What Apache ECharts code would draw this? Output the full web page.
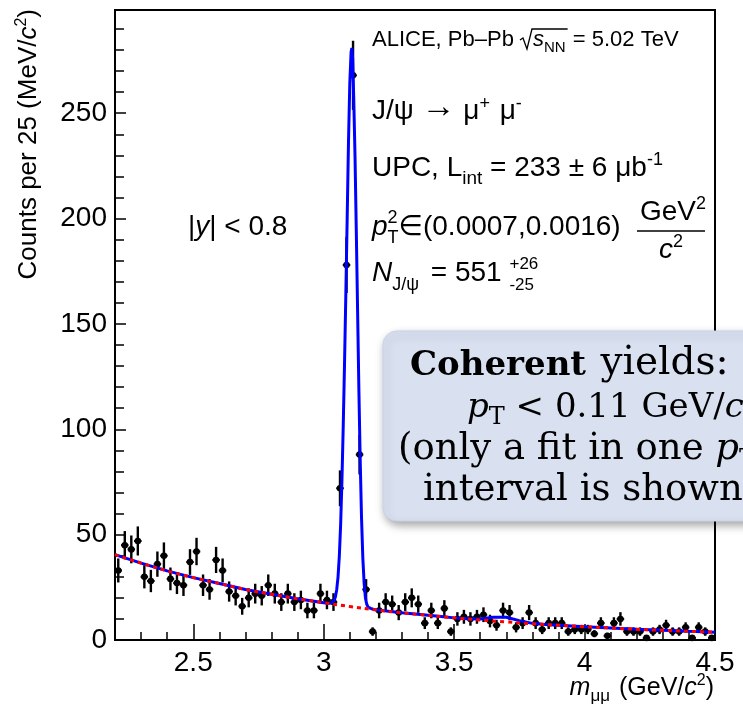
<!DOCTYPE html>
<html>
<head>
<meta charset="utf-8">
<script src="https://cdn.jsdelivr.net/npm/echarts@6/dist/echarts.min.js"></script>
<style>html,body{margin:0;padding:0;background:#fff}#c{width:743px;height:707px}</style>
</head>
<body>
<div id="c"></div>
<script>
// ---------- data ----------
const binCenters = [
 2.2125,2.2375,2.2625,2.2875,2.3125,2.3375,2.3625,2.3875,2.4125,2.4375,
 2.4625,2.4875,2.5125,2.5375,2.5625,2.5875,2.6125,2.6375,2.6625,2.6875,
 2.7125,2.7375,2.7625,2.7875,2.8125,2.8375,2.8625,2.8875,2.9125,2.9375,
 2.9625,2.9875,3.0125,3.0375,3.0625,3.0875,3.1125,3.1375,3.1625,3.1875,
 3.2125,3.2375,3.2625,3.2875,3.3125,3.3375,3.3625,3.3875,3.4125,3.4375,
 3.4625,3.4875,3.5125,3.5375,3.5625,3.5875,3.6125,3.6375,3.6625,3.6875,
 3.7125,3.7375,3.7625,3.7875,3.8125,3.8375,3.8625,3.8875,3.9125,3.9375,
 3.9625,3.9875,4.0125,4.0375,4.0625,4.0875,4.1125,4.1375,4.1625,4.1875,
 4.2125,4.2375,4.2625,4.2875,4.3125,4.3375,4.3625,4.3875,4.4125,4.4375,
 4.4625,4.4875];
const counts = [
 33,45,43,47,30,28,36,40,29,27,
 26,37,42,26,24,38,33,23,21,16,
 20,22,21,26,22,18,22,18,19,14,
 14,22,19,18,72,178,268,88,24,4,
 14,18,17,13,18,20,17,8,14,8,
 15,4,10,11,10,11,12,9,7,14,
 13,6,8,13,8,5,8,8,8,4,
 5,5,5,3,8,2,8,10,4,4,
 4,1,4,5,7,4,4,6,1,6,
 4,1];
const countErrors = [
 5.7,6.7,6.6,6.9,5.5,5.3,6.0,6.3,5.4,5.2,
 5.1,6.1,6.5,5.1,4.9,6.2,5.7,4.8,4.6,4.0,
 4.5,4.7,4.6,5.1,4.7,4.2,4.7,4.2,4.4,3.7,
 3.7,4.7,4.4,4.2,8.5,13.3,16.4,9.4,4.9,2.0,
 3.7,4.2,4.1,3.6,4.2,4.5,4.1,2.8,3.7,2.8,
 3.9,2.0,3.2,3.3,3.2,3.3,3.5,3.0,2.6,3.7,
 3.6,2.4,2.8,3.6,2.8,2.2,2.8,2.8,2.8,2.0,
 2.2,2.2,2.2,1.7,2.8,1.4,2.8,3.2,2.0,2.0,
 2.0,1.0,2.0,2.2,2.6,2.0,2.0,2.4,1.0,2.4,
 2.0,1.0];
const fitTotalMass = [
 2.2,2.3,2.4,2.5,2.6,2.7,2.8,2.9,3.0,3.02,3.03,3.035,3.04,3.045,3.05,3.055,3.06,3.065,3.07,3.075,
 3.08,3.085,3.09,3.095,3.1,3.105,3.108,3.111,3.115,3.12,3.125,3.13,3.135,3.14,3.145,3.15,3.155,3.16,
 3.165,3.17,3.18,3.19,3.2,3.3,3.4,3.45,3.5,3.55,3.6,3.65,3.7,3.75,3.8,3.85,3.9,4.0,4.1,4.2,4.3,4.4,4.5];
const fitTotalCounts = [
 40.5,36.5,32.8,29.6,26.8,24.0,21.7,19.6,17.7,17.4,17.6,18.0,18.8,20.5,24,30,40,55,76,102,
 132,165,200,236,264,279,281,276,258,230,194,156,118,85,58,39,27,20,
 17,15.6,15.0,14.6,14.3,12.9,11.7,11.1,10.5,10.1,10.0,10.8,10.8,9.2,7.9,7.35,7.0,6.3,5.7,5.1,4.6,4.1,3.7];
const bkgMass = [2.2,2.3,2.4,2.5,2.6,2.7,2.8,2.9,3.0,3.1,3.2,3.3,3.4,3.5,3.6,3.7,3.8,3.9,4.0,4.1,4.2,4.3,4.4,4.5];
const bkgCounts = [40.5,36.5,32.8,29.6,26.8,24.0,21.7,19.6,17.7,15.9,14.3,12.9,11.7,10.5,9.5,8.6,7.7,7.0,6.3,5.7,5.1,4.6,4.1,3.7];
const xMajorTicks = [2.5,3,3.5,4,4.5];
const xMinorTicks = [2.3,2.4,2.6,2.7,2.8,2.9,3.1,3.2,3.3,3.4,3.6,3.7,3.8,3.9,4.1,4.2,4.3,4.4];
const yMajorTicks = [0,50,100,150,200,250];
const yMinorTicks = [10,20,30,40,60,70,80,90,110,120,130,140,160,170,180,190,210,220,230,240,260,270,280,290];

// ---------- text layout helpers ----------
const SANS = 'Liberation Sans, Arial, DejaVu Sans, sans-serif';
const SERIF = 'DejaVu Serif, serif';
const mctx = document.createElement('canvas').getContext('2d');
function measure(p){ mctx.font = (p.it?'italic ':'')+(p.b?'bold ':'')+p.s+'px '+p.f; return mctx.measureText(p.t).width; }
function run(x, y, pieces, def){
  let cx = 0, pend = 0; const children = []; const pos = [];
  pieces.forEach(pc => {
    const p = Object.assign({s:def.s, f:def.f||SANS, it:false, b:false, dy:0, dx:0}, pc);
    cx += p.dx; pos.push(cx);
    children.push({type:'text', z:110, x:cx, y:p.dy - 0.35*p.s, style:{text:p.t, fill:'#000', fontSize:p.s, fontFamily:p.f,
      fontStyle:p.it?'italic':'normal', fontWeight:p.b?'bold':'normal', align:'left', verticalAlign:'middle'}});
    const wd = measure(p);
    if (p.stay) { pend = wd; } else { cx += Math.max(wd, pend); pend = 0; }
  });
  return {el:{type:'group', x:x, y:y, z:110, children:children}, width:cx, pos:pos};
}

const graphics = [];
// info box
graphics.push({type:'rect', z:100, shape:{x:383, y:331, width:430, height:190, r:14},
  style:{fill:'#d9e1f1', stroke:'#c9d3e7', lineWidth:1, shadowBlur:8, shadowOffsetX:2, shadowOffsetY:4, shadowColor:'rgba(0,0,0,0.35)'}});
graphics.push(run(410, 378, [{t:'Coherent', b:true, s:34},{t:' yields:', s:39, dx:2}], {s:37, f:SERIF}).el);
graphics.push(run(467, 420, [{t:'p', it:true},{t:'T', s:24, dy:6},{t:' < 0.11 GeV/'},{t:'c', it:true}], {s:34, f:SERIF}).el);
graphics.push(run(398, 462, [{t:'(only a fit in one '},{t:'p', it:true},{t:'T', s:25, dy:6},{t:' '}], {s:37, f:SERIF}).el);
graphics.push(run(423, 503, [{t:'interval is shown)'}], {s:37, f:SERIF}).el);

// ALICE line
const alice = run(372, 48, [{t:'ALICE, Pb\u2013Pb '},{t:'s', it:true, dx:13},{t:'NN', s:15, dy:5},{t:' = 5.02 TeV', dx:1}], {s:22});
graphics.push(alice.el);
{
  const x0 = 372 + alice.pos[1] - 13, xe = 372 + alice.pos[3] + 1, b = 48;
  graphics.push({type:'polyline', z:110, shape:{points:[[x0, b-8],[x0+3, b-10],[x0+7, b+1],[x0+12, b-19],[xe, b-19]]},
    style:{stroke:'#000', lineWidth:1.3, fill:null}});
}
graphics.push(run(372, 121, [{t:'J/\u03c8 '},{t:'\u2192', s:34, dy:-1},{t:' \u03bc'},{t:'+', s:18, dy:-11},{t:' \u03bc', dx:2},{t:'-', s:18, dy:-11}], {s:28}).el);
graphics.push(run(372, 178, [{t:'UPC, L'},{t:'int', s:19, dy:7},{t:' = 233 \u00b1 6 \u03bcb'},{t:'-1', s:18, dy:-12}], {s:28}).el);
graphics.push(run(372, 237, [{t:'p', it:true},{t:'2', s:18, dy:-13, stay:true},{t:'T', s:18, dy:7},{t:'\u2208(0.0007,0.0016)', dx:0}], {s:28}).el);
// fraction GeV^2 / c^2
graphics.push(run(640, 222, [{t:'GeV'},{t:'2', s:18, dy:-12}], {s:28}).el);
graphics.push({type:'line', z:110, shape:{x1:637, y1:231, x2:705, y2:231}, style:{stroke:'#000', lineWidth:1.5}});
graphics.push(run(659, 260, [{t:'c', it:true},{t:'2', s:18, dy:-12}], {s:28}).el);
graphics.push(run(372, 283, [{t:'N', it:true},{t:'J/\u03c8', s:18, dy:8},{t:' = 551 ', dx:4},{t:'+26', s:17, dy:-13, stay:true},{t:'-25', s:17, dy:8}], {s:28}).el);
graphics.push(run(188, 237, [{t:'|'},{t:'y', it:true},{t:'| < 0.8'}], {s:28}).el);

// x axis title (right aligned)
{
  const pcs = [{t:'m', it:true},{t:'\u03bc\u03bc', s:17, dy:5},{t:' (GeV/', dx:2},{t:'c', it:true},{t:'2', s:16, dy:-11},{t:')'}];
  const r0 = run(0, 0, pcs, {s:25});
  graphics.push(run(714 - r0.width, 697, pcs, {s:25}).el);
}
// y axis title (rotated)
{
  const pcs = [{t:'Counts per 25 (MeV/'},{t:'c', it:true},{t:'2', s:16, dy:-11},{t:')'}];
  const r = run(0, 0, pcs, {s:26});
  r.el.x = 38; r.el.y = 9 + r.width; r.el.rotation = Math.PI/2;
  graphics.push(r.el);
}

// ---------- chart ----------
const chart = echarts.init(document.getElementById('c'), null, {renderer:'canvas'});
const pointData = binCenters.map((m,i)=>[m, counts[i], countErrors[i]]);
const halfBin = 0.0125;
const axisFont = {fontSize:28, color:'#000', fontFamily:SANS};
chart.setOption({
  animation:false,
  backgroundColor:'#fff',
  grid:{left:115, right:28, top:10, bottom:67, show:true, borderColor:'#000', borderWidth:2, backgroundColor:'transparent'},
  xAxis:[
    {type:'value', min:2.2, max:4.5, position:'bottom',
     axisLine:{show:true, onZero:false, lineStyle:{color:'#000', width:2}},
     axisTick:{show:true, inside:true, length:16, customValues:xMajorTicks, lineStyle:{color:'#000', width:1.5}},
     axisLabel:Object.assign({customValues:xMajorTicks, margin:9, formatter:v=>String(v)}, axisFont),
     splitLine:{show:false}},
    {type:'value', min:2.2, max:4.5, position:'bottom',
     axisLine:{show:false, onZero:false},
     axisTick:{show:true, inside:true, length:8, customValues:xMinorTicks, lineStyle:{color:'#000', width:1.5}},
     axisLabel:{show:false}, splitLine:{show:false}}
  ],
  yAxis:[
    {type:'value', min:0, max:299, position:'left',
     axisLine:{show:true, onZero:false, lineStyle:{color:'#000', width:2}},
     axisTick:{show:true, inside:true, length:11, customValues:yMajorTicks, lineStyle:{color:'#000', width:1.5}},
     axisLabel:Object.assign({customValues:yMajorTicks, margin:8}, axisFont),
     splitLine:{show:false}},
    {type:'value', min:0, max:299, position:'left',
     axisLine:{show:false, onZero:false},
     axisTick:{show:true, inside:true, length:9, customValues:yMinorTicks, lineStyle:{color:'#000', width:1.5}},
     axisLabel:{show:false}, splitLine:{show:false}}
  ],
  series:[
    {type:'custom', xAxisIndex:0, yAxisIndex:0, z:2, data:pointData,
     renderItem:function(params, api){
       const x = api.value(0), y = api.value(1), e = api.value(2);
       const p = api.coord([x, y]);
       const t = api.coord([x, y+e]);
       const b = api.coord([x, Math.max(y-e, 0)]);
       const l = api.coord([x-halfBin, y]);
       const r = api.coord([x+halfBin, y]);
       return {type:'group', children:[
         {type:'line', shape:{x1:p[0], y1:t[1], x2:p[0], y2:b[1]}, style:{stroke:'#000', lineWidth:2.4}},
         {type:'line', shape:{x1:l[0]-0.5, y1:p[1], x2:r[0]+0.5, y2:p[1]}, style:{stroke:'#000', lineWidth:2}},
         {type:'circle', shape:{cx:p[0], cy:p[1], r:3.3}, style:{fill:'#000'}}
       ]};
     }},
    {type:'line', xAxisIndex:0, yAxisIndex:0, z:3, showSymbol:false, symbol:'none', smooth:false,
     data:fitTotalMass.map((m,i)=>[m, fitTotalCounts[i]]),
     lineStyle:{color:'#0000ff', width:3}},
    {type:'line', xAxisIndex:0, yAxisIndex:0, z:4, showSymbol:false, symbol:'none', smooth:true,
     data:bkgMass.map((m,i)=>[m, bkgCounts[i]]),
     lineStyle:{color:'#ff0000', width:3, type:[4,4]}}
  ],
  graphic:graphics
});
</script>
</body>
</html>
